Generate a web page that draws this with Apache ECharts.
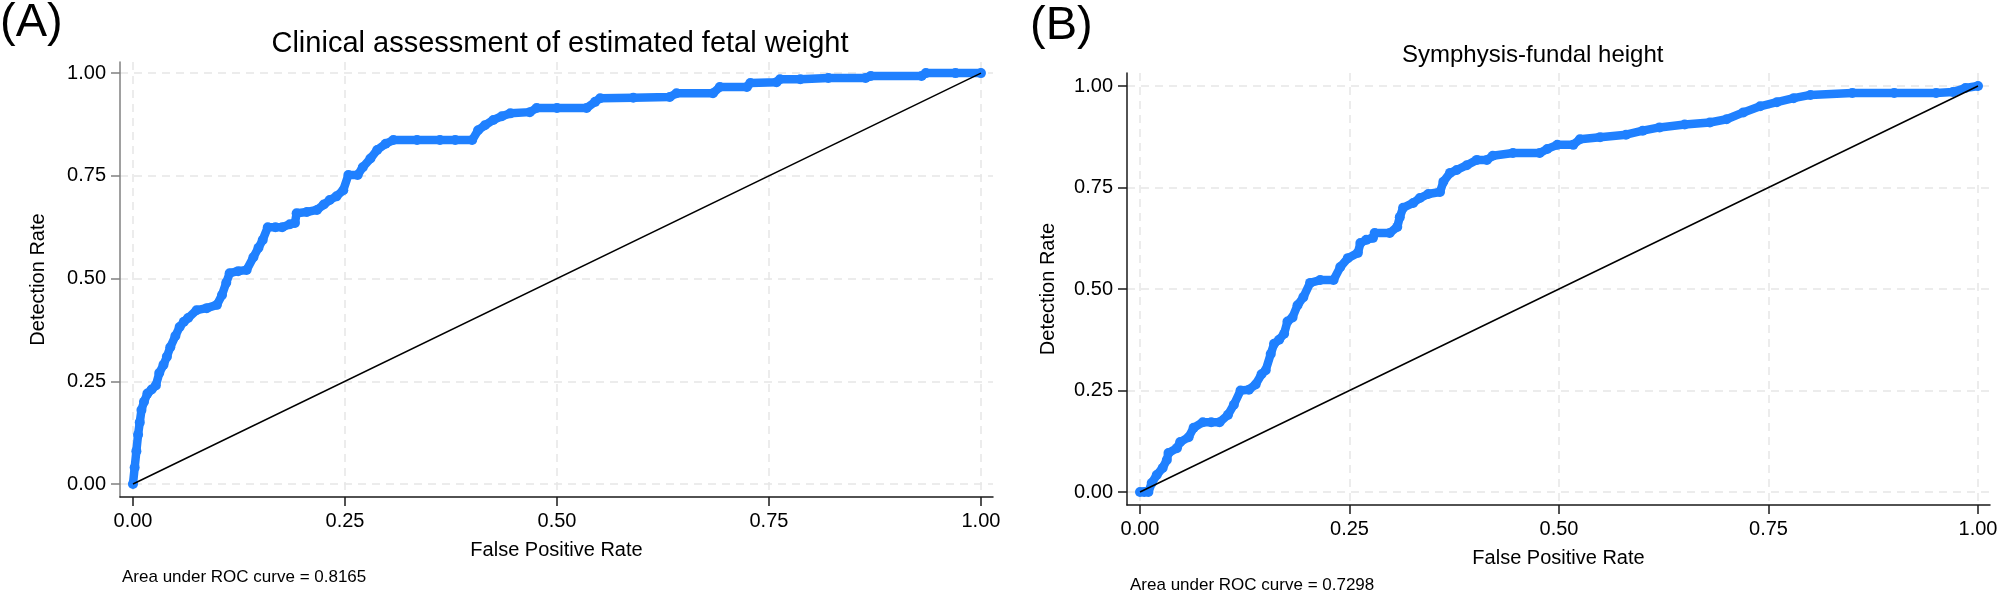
<!DOCTYPE html>
<html>
<head>
<meta charset="utf-8">
<script src="https://cdn.jsdelivr.net/npm/echarts@6/dist/echarts.min.js"></script>
<style>
html,body{margin:0;padding:0;background:#fff;}
#chart{width:2001px;height:593px;}
</style>
</head>
<body>
<div id="chart"></div>
<script>
// ---- data ----
const panelLabels = ['(A)', '(B)'];
const titles = ['Clinical assessment of estimated fetal weight', 'Symphysis-fundal height'];
const aucTexts = ['Area under ROC curve = 0.8165', 'Area under ROC curve = 0.7298'];
const xAxisName = 'False Positive Rate';
const yAxisName = 'Detection Rate';
const tickValues = [0, 0.25, 0.5, 0.75, 1];

const fprA = [0,0.002,0.004,0.006,0.008,0.010,0.013,0.017,0.022,0.027,0.031,0.036,0.040,0.044,0.050,0.055,0.060,0.065,0.075,0.087,0.099,0.105,0.110,0.114,0.124,0.134,0.142,0.148,0.153,0.159,0.168,0.176,0.185,0.191,0.193,0.205,0.217,0.225,0.232,0.240,0.248,0.254,0.265,0.271,0.280,0.288,0.298,0.307,0.335,0.362,0.380,0.400,0.407,0.415,0.425,0.435,0.445,0.468,0.476,0.500,0.535,0.545,0.551,0.590,0.633,0.641,0.684,0.692,0.724,0.728,0.759,0.763,0.787,0.820,0.864,0.870,0.930,0.935,0.970,1.0];
const tprA = [0,0.04,0.08,0.12,0.15,0.18,0.20,0.22,0.23,0.24,0.27,0.29,0.31,0.333,0.36,0.382,0.395,0.404,0.423,0.428,0.436,0.460,0.490,0.513,0.518,0.521,0.552,0.575,0.594,0.625,0.625,0.625,0.632,0.635,0.659,0.662,0.667,0.680,0.691,0.700,0.715,0.752,0.752,0.771,0.792,0.813,0.828,0.837,0.837,0.837,0.837,0.837,0.861,0.873,0.886,0.895,0.902,0.905,0.915,0.915,0.915,0.930,0.939,0.940,0.942,0.951,0.951,0.966,0.966,0.976,0.978,0.985,0.985,0.988,0.988,0.993,0.993,1.0,1.0,1.0];

const fprB = [0,0.005,0.010,0.014,0.020,0.027,0.032,0.034,0.044,0.048,0.058,0.064,0.075,0.085,0.095,0.105,0.112,0.120,0.130,0.138,0.145,0.150,0.156,0.160,0.166,0.172,0.176,0.182,0.188,0.195,0.203,0.215,0.231,0.239,0.248,0.260,0.263,0.270,0.278,0.280,0.298,0.307,0.310,0.314,0.326,0.334,0.344,0.358,0.362,0.370,0.378,0.390,0.402,0.414,0.421,0.445,0.477,0.486,0.498,0.517,0.525,0.549,0.580,0.600,0.620,0.650,0.680,0.700,0.720,0.740,0.760,0.780,0.800,0.850,0.900,0.950,0.970,0.985,1.0];
const tprB = [0,0,0,0.022,0.042,0.059,0.079,0.096,0.108,0.123,0.135,0.158,0.172,0.172,0.172,0.190,0.215,0.250,0.252,0.265,0.290,0.300,0.340,0.365,0.375,0.390,0.420,0.430,0.460,0.480,0.515,0.522,0.522,0.554,0.576,0.589,0.613,0.621,0.626,0.638,0.638,0.653,0.677,0.700,0.712,0.724,0.734,0.739,0.764,0.786,0.793,0.805,0.818,0.818,0.828,0.835,0.835,0.845,0.855,0.855,0.869,0.874,0.880,0.890,0.898,0.905,0.910,0.918,0.935,0.950,0.960,0.970,0.978,0.983,0.983,0.983,0.985,0.995,1.0];

const refLine = [0, 1];

// ---- build ----
const FONT = '"Liberation Sans", Arial, sans-serif';
const BLUE = '#1f80ff';
const zip = (a, b) => a.map((v, i) => [v, b[i]]);

function makeX(idx, lineColor, range) {
  return {
    type: 'value', gridIndex: idx, min: range[0], max: range[1],
    name: xAxisName, nameLocation: 'middle', nameGap: 43,
    nameTextStyle: {fontFamily: FONT, fontSize: 20, color: '#000'},
    axisLine: {show: true, onZero: false, lineStyle: {color: lineColor, width: 1.5}},
    axisTick: {show: true, length: 9, customValues: tickValues, lineStyle: {color: lineColor, width: 1.5}},
    axisLabel: {show: true, customValues: tickValues, margin: 14, fontFamily: FONT, fontSize: 20, color: '#000',
      formatter: v => v.toFixed(2)},
    splitLine: {show: true, customValues: tickValues, lineStyle: {color: '#e6e6e6', width: 1.5, type: [8, 6]}}
  };
}
function makeY(idx, lineColor, range, gap) {
  return {
    type: 'value', gridIndex: idx, min: range[0], max: range[1],
    name: yAxisName, nameLocation: 'middle', nameGap: gap,
    nameTextStyle: {fontFamily: FONT, fontSize: 20, color: '#000'},
    axisLine: {show: true, onZero: false, lineStyle: {color: lineColor, width: 1.5}},
    axisTick: {show: true, length: 9, customValues: tickValues, lineStyle: {color: lineColor, width: 1.5}},
    axisLabel: {show: true, customValues: tickValues, margin: 14, fontFamily: FONT, fontSize: 20, color: '#000',
      formatter: v => v.toFixed(2)},
    splitLine: {show: true, customValues: tickValues, lineStyle: {color: '#e6e6e6', width: 1.5, type: [8, 6]}}
  };
}
function curve(idx, data) {
  return {
    type: 'line', xAxisIndex: idx, yAxisIndex: idx, data: data,
    showSymbol: true, showAllSymbol: true, symbol: 'circle', symbolSize: 10,
    itemStyle: {color: BLUE}, lineStyle: {color: BLUE, width: 8.5, join: 'round', cap: 'round'},
    animation: false, z: 3
  };
}
function diag(idx) {
  return {
    type: 'line', xAxisIndex: idx, yAxisIndex: idx, data: zip(refLine, refLine),
    showSymbol: false, lineStyle: {color: '#000', width: 1.5}, animation: false, z: 4
  };
}

const chart = echarts.init(document.getElementById('chart'), null, {renderer: 'canvas'});
chart.setOption({
  backgroundColor: '#fff',
  animation: false,
  grid: [
    {left: 120, right: 2001 - 993, top: 62, bottom: 593 - 497},
    {left: 1127, right: 2001 - 1990, top: 73, bottom: 593 - 505}
  ],
  xAxis: [makeX(0, '#1a1a1a', [-0.0153, 1.0142]), makeX(1, '#1a1a1a', [-0.0155, 1.0143])],
  yAxis: [makeY(0, '#808080', [-0.0316, 1.027], 72), makeY(1, '#1a1a1a', [-0.032, 1.032], 69)],
  series: [curve(0, zip(fprA, tprA)), diag(0), curve(1, zip(fprB, tprB)), diag(1)],
  graphic: [
    {type: 'text', x: 0, y: 23, style: {text: panelLabels[0], font: '47px ' + FONT, fill: '#000', textVerticalAlign: 'middle'}},
    {type: 'text', x: 1030, y: 26, style: {text: panelLabels[1], font: '47px ' + FONT, fill: '#000', textVerticalAlign: 'middle'}},
    {type: 'text', x: 560, y: 44, style: {text: titles[0], font: '29px ' + FONT, fill: '#000', textAlign: 'center', textVerticalAlign: 'middle'}},
    {type: 'text', x: 1402, y: 55, style: {text: titles[1], font: '24px ' + FONT, fill: '#000', textAlign: 'left', textVerticalAlign: 'middle'}},
    {type: 'text', x: 122, y: 577, style: {text: aucTexts[0], font: '17px ' + FONT, fill: '#000', textVerticalAlign: 'middle'}},
    {type: 'text', x: 1130, y: 585, style: {text: aucTexts[1], font: '17px ' + FONT, fill: '#000', textVerticalAlign: 'middle'}}
  ]
});
</script>
</body>
</html>
